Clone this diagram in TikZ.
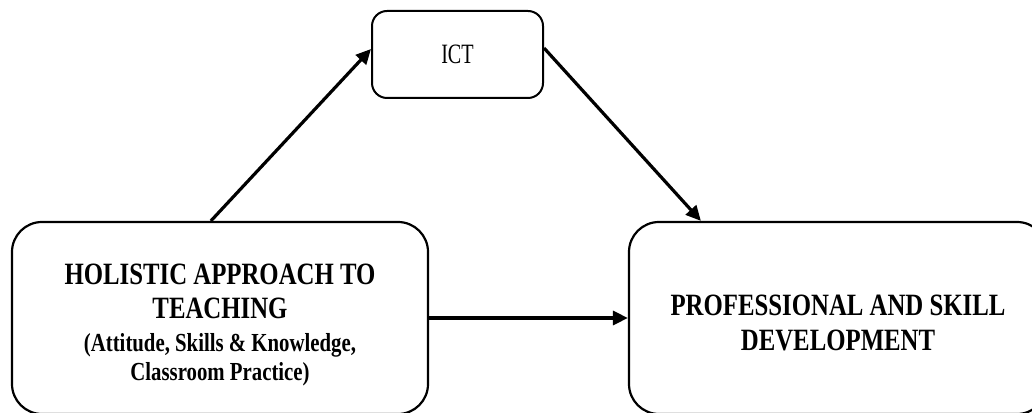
\documentclass[tikz,border=0pt]{standalone}
\usepackage{fontspec}
\setmainfont{Liberation Serif}[FakeStretch=0.8]
\newfontfamily\ictfont{Liberation Serif}[FakeStretch=0.72]
\usetikzlibrary{arrows.meta}
\begin{document}
\begin{tikzpicture}[x=1pt,y=1pt,
  bigbox/.style={draw,line width=2.2pt,rounded corners=30pt,inner sep=0pt},
  smallbox/.style={draw,line width=2pt,rounded corners=15pt,inner sep=0pt},
  conn/.style={line width=3.2pt,-{Triangle[length=15pt,width=14pt]}},
  bigtext/.style={anchor=base,inner sep=0pt,font=\bfseries\fontsize{31}{34}\selectfont},
  smalltext/.style={anchor=base,inner sep=0pt,font=\bfseries\fontsize{26}{28}\selectfont}]
\useasboundingbox (0,0) rectangle (1032,412);
\clip (0,0) rectangle (1032,412);
\node[bigbox,minimum width=416pt,minimum height=192pt] (L) at (220,94) {};
\node[bigbox,minimum width=418pt,minimum height=192pt] (R) at (838,94) {};
\node[smallbox,minimum width=171pt,minimum height=87pt] (I) at (457.5,357.5) {};
\node[anchor=base,inner sep=0pt,font=\ictfont\fontsize{28}{30}\selectfont] (it) at (457.5,348) {ICT};
\node[bigtext] (l1) at (220,127) {HOLISTIC APPROACH TO};
\node[bigtext] (l2) at (220,93) {TEACHING};
\node[smalltext] (l3) at (220,60) {(Attitude, Skills \& Knowledge,};
\node[smalltext] (l4) at (220,32) {Classroom Practice)};
\node[bigtext] (r1) at (838,96) {PROFESSIONAL AND SKILL};
\node[bigtext] (r2) at (838,62) {DEVELOPMENT};
\draw[conn] ([xshift=200pt]L.north west) -- ([yshift=5.5pt]I.west);
\draw[conn] ([yshift=6.5pt]I.east) -- ([xshift=73pt]R.north west);
\draw[conn] (L.east) -- (R.west);
\end{tikzpicture}
\end{document}
